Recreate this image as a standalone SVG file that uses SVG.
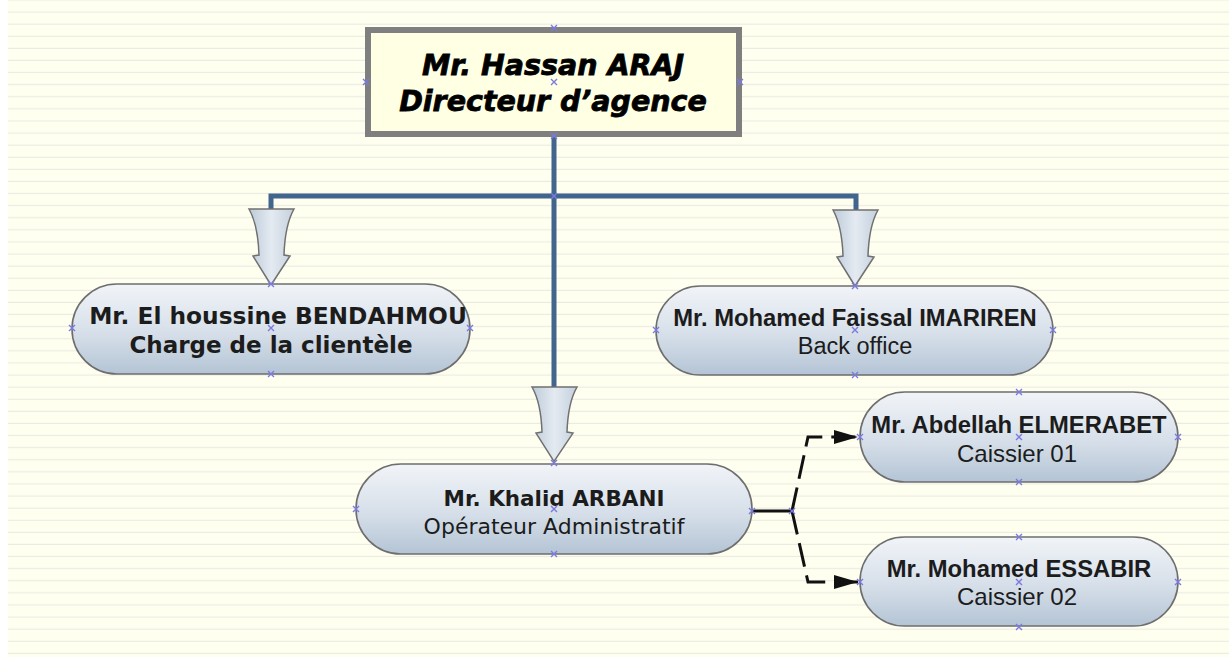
<svg xmlns="http://www.w3.org/2000/svg" width="1229" height="657" viewBox="0 0 1229 657">
<style>
.pill{fill:url(#pillGrad);stroke:#6e6e6e;stroke-width:1.6}
.hollow{fill:url(#arrGrad);stroke:#707070;stroke-width:1.5}
.trunk{fill:none;stroke:#41658d;stroke-width:5;stroke-linejoin:miter}
.dash{fill:none;stroke:#111;stroke-width:3;stroke-dasharray:24 9}
.solid{fill:none;stroke:#111;stroke-width:3}
.lg{font-family:"DejaVu Sans","Noto Sans",sans-serif;fill:#1c1c1c;text-anchor:middle}
.ar{font-family:"Liberation Sans",Arial,sans-serif;fill:#1c1c1c;text-anchor:middle}
.b{font-weight:bold}
.hd{font-family:"DejaVu Sans",sans-serif;font-weight:bold;font-style:italic;font-size:28.5px;fill:#000;stroke:#000;stroke-width:0.8;text-anchor:middle}
.h{fill:none;stroke:#7a7ae0;stroke-width:1.4}
</style>
<defs>
<pattern id="lines" x="0" y="0.5" width="40" height="12.1" patternUnits="userSpaceOnUse">
<rect width="40" height="12.1" fill="#fffff0"/>
<rect y="11" width="40" height="1.4" fill="#ebeae3"/>
</pattern>
<linearGradient id="pillGrad" x1="0" y1="0" x2="0" y2="1">
<stop offset="0" stop-color="#f1f4f8"/>
<stop offset="0.55" stop-color="#d6dfe9"/>
<stop offset="1" stop-color="#b4c4d5"/>
</linearGradient>
<linearGradient id="arrGrad" x1="0" y1="0" x2="1" y2="0">
<stop offset="0" stop-color="#bccbd9"/>
<stop offset="0.5" stop-color="#e4eaf1"/>
<stop offset="1" stop-color="#c3d0dd"/>
</linearGradient>
<path id="bigArrow" d="M -22 0 L 23 0 Q 14 16 13 46 L 19 47 L 0 76 L -18 47 L -12 46 Q -13 16 -22 0 Z"/>
<marker id="ah" markerUnits="userSpaceOnUse" markerWidth="24" markerHeight="14" refX="24" refY="7" orient="auto">
<path d="M0,0 L24,7 L0,14 Z" fill="#111"/>
</marker>
<path id="hx" d="M-3,-3 L3,3 M-3,3 L3,-3"/>
</defs>

<rect width="1229" height="657" fill="#ffffff"/>
<rect x="8" y="0" width="1221" height="657" fill="url(#lines)"/>

<g id="connectors">
<path class="trunk" d="M554,137 V392"/>
<path class="trunk" d="M271,212 V196 H856 V212"/>
<use href="#bigArrow" class="hollow" transform="translate(271,209)"/>
<use href="#bigArrow" class="hollow" transform="translate(855,210)"/>
<use href="#bigArrow" class="hollow" transform="translate(554,387) scale(1,0.98)"/>
<path class="solid" d="M752,511 H792"/>
<path class="dash" d="M792,511 L808,437 H858" marker-end="url(#ah)"/>
<path class="dash" d="M792,511 L808,582 H858" marker-end="url(#ah)"/>
</g>

<g id="node-directeur">
<rect x="368" y="30" width="371" height="104" fill="#ffffe4" stroke="#7f7f7f" stroke-width="6"/>
<text class="hd" x="553" y="75">Mr. Hassan ARAJ</text>
<text class="hd" x="553" y="111">Directeur d’agence</text>
</g>

<g id="node-bendahmou">
<rect class="pill" x="72" y="284" width="398" height="90" rx="45"/>
<text class="lg b" x="278" y="324" font-size="23.3">Mr. El houssine BENDAHMOU</text>
<text class="lg b" x="271" y="353" font-size="23">Charge de la clientèle</text>
</g>

<g id="node-imariren">
<rect class="pill" x="656" y="286" width="397" height="89" rx="44.5"/>
<text class="ar b" x="855" y="326" font-size="23.8">Mr. Mohamed Faissal IMARIREN</text>
<text class="ar" x="855" y="354" font-size="23.5">Back office</text>
</g>

<g id="node-arbani">
<rect class="pill" x="356" y="464" width="396" height="90" rx="45"/>
<text class="lg b" x="554" y="506" font-size="21.5">Mr. Khalid ARBANI</text>
<text class="lg" x="554" y="534" font-size="22">Opérateur Administratif</text>
</g>

<g id="node-elmerabet">
<rect class="pill" x="860" y="392" width="318" height="90" rx="45"/>
<text class="ar b" x="1019" y="433" font-size="23.8">Mr. Abdellah ELMERABET</text>
<text class="ar" x="1017" y="462" font-size="24">Caissier 01</text>
</g>

<g id="node-essabir">
<rect class="pill" x="860" y="537" width="318" height="89" rx="44.5"/>
<text class="ar b" x="1019" y="577" font-size="23.8">Mr. Mohamed ESSABIR</text>
<text class="ar" x="1017" y="605" font-size="24">Caissier 02</text>
</g>

<g id="handles" class="h">
<use href="#hx" x="554" y="28"/><use href="#hx" x="366" y="82"/><use href="#hx" x="554" y="82"/><use href="#hx" x="740" y="82"/><use href="#hx" x="554" y="136"/>
<use href="#hx" x="554" y="196"/>
<use href="#hx" x="271" y="284"/><use href="#hx" x="72" y="328"/><use href="#hx" x="271" y="328"/><use href="#hx" x="470" y="328"/><use href="#hx" x="271" y="374"/>
<use href="#hx" x="855" y="286"/><use href="#hx" x="656" y="330"/><use href="#hx" x="855" y="330"/><use href="#hx" x="1053" y="330"/><use href="#hx" x="855" y="375"/>
<use href="#hx" x="554" y="463"/><use href="#hx" x="356" y="509"/><use href="#hx" x="554" y="509"/><use href="#hx" x="752" y="511"/><use href="#hx" x="554" y="554"/>
<use href="#hx" x="792" y="511"/>
<use href="#hx" x="1019" y="392"/><use href="#hx" x="860" y="437"/><use href="#hx" x="1019" y="437"/><use href="#hx" x="1178" y="437"/><use href="#hx" x="1019" y="482"/>
<use href="#hx" x="1019" y="537"/><use href="#hx" x="860" y="582"/><use href="#hx" x="1019" y="582"/><use href="#hx" x="1178" y="582"/><use href="#hx" x="1019" y="627"/>
</g>
</svg>
